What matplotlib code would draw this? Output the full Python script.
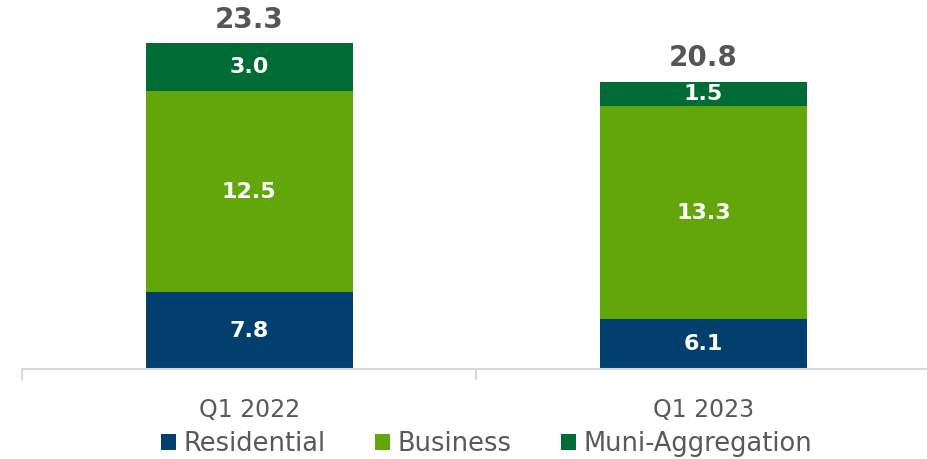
import numpy as np
import matplotlib.pyplot as plt
from matplotlib.patches import Patch

quarters = ["Q1 2022", "Q1 2023"]
residential = [7.8, 6.1]
business = [12.5, 13.3]
muni = [3.0, 1.5]
totals = ["23.3", "20.8"]

series_names = ["Residential", "Business", "Muni-Aggregation"]
colors = ["#003F6E", "#62A60A", "#006B35"]
gray = "#595959"

plt.rcParams['font.family'] = ['DejaVu Sans']

fig = plt.figure(figsize=(9.27, 4.59), dpi=100)
ax = fig.add_axes([0.0237, 0.196, 0.98, 0.804])

# axis starts above zero (as in the original chart)
y0 = 3.0
x = np.arange(len(quarters))
w = 0.456
bottom = np.zeros(len(quarters))
for vals, col in zip([residential, business, muni], colors):
    vals = np.array(vals)
    ax.bar(x, vals, w, bottom=bottom, color=col, zorder=2)
    for xi, b, v in zip(x, bottom, vals):
        lo = max(b, y0)
        ax.text(xi, (lo + b + v) / 2, f"{v:.1f}", ha="center", va="center",
                color="white", fontsize=16, fontweight="bold", zorder=3)
    bottom = bottom + vals

for xi, top, lab in zip(x, bottom, totals):
    ax.annotate(lab, (xi, top), xytext=(0, 7), textcoords="offset points",
                ha="center", va="bottom", color="#555555", fontsize=20, fontweight="bold")

ax.set_xlim(-0.5, 1.5)
ax.set_ylim(y0, 26)
ax.set_yticks([])
for s in ["left", "right", "top"]:
    ax.spines[s].set_visible(False)
ax.spines["bottom"].set_color("#D9D9D9")
ax.spines["bottom"].set_linewidth(1.5)

ax.set_xticks([-0.5, 0.5, 1.5])
ax.set_xticklabels([])
ax.tick_params(axis="x", which="major", length=8, width=1.5, color="#D9D9D9")
ax.set_xticks(x, minor=True)
ax.set_xticklabels(quarters, minor=True)
ax.tick_params(axis="x", which="minor", length=0, pad=21, labelsize=17, labelcolor=gray)

handles = [Patch(facecolor=c, label=n) for c, n in zip(colors, series_names)]
fig.legend(handles=handles, loc="center", bbox_to_anchor=(0.525, 0.033), ncol=3,
           frameon=False, fontsize=18.5, labelcolor=gray, handlelength=0.55,
           handleheight=0.55, handletextpad=0.3, columnspacing=1.95, borderpad=0)

fig.savefig("out.png", dpi=100)
